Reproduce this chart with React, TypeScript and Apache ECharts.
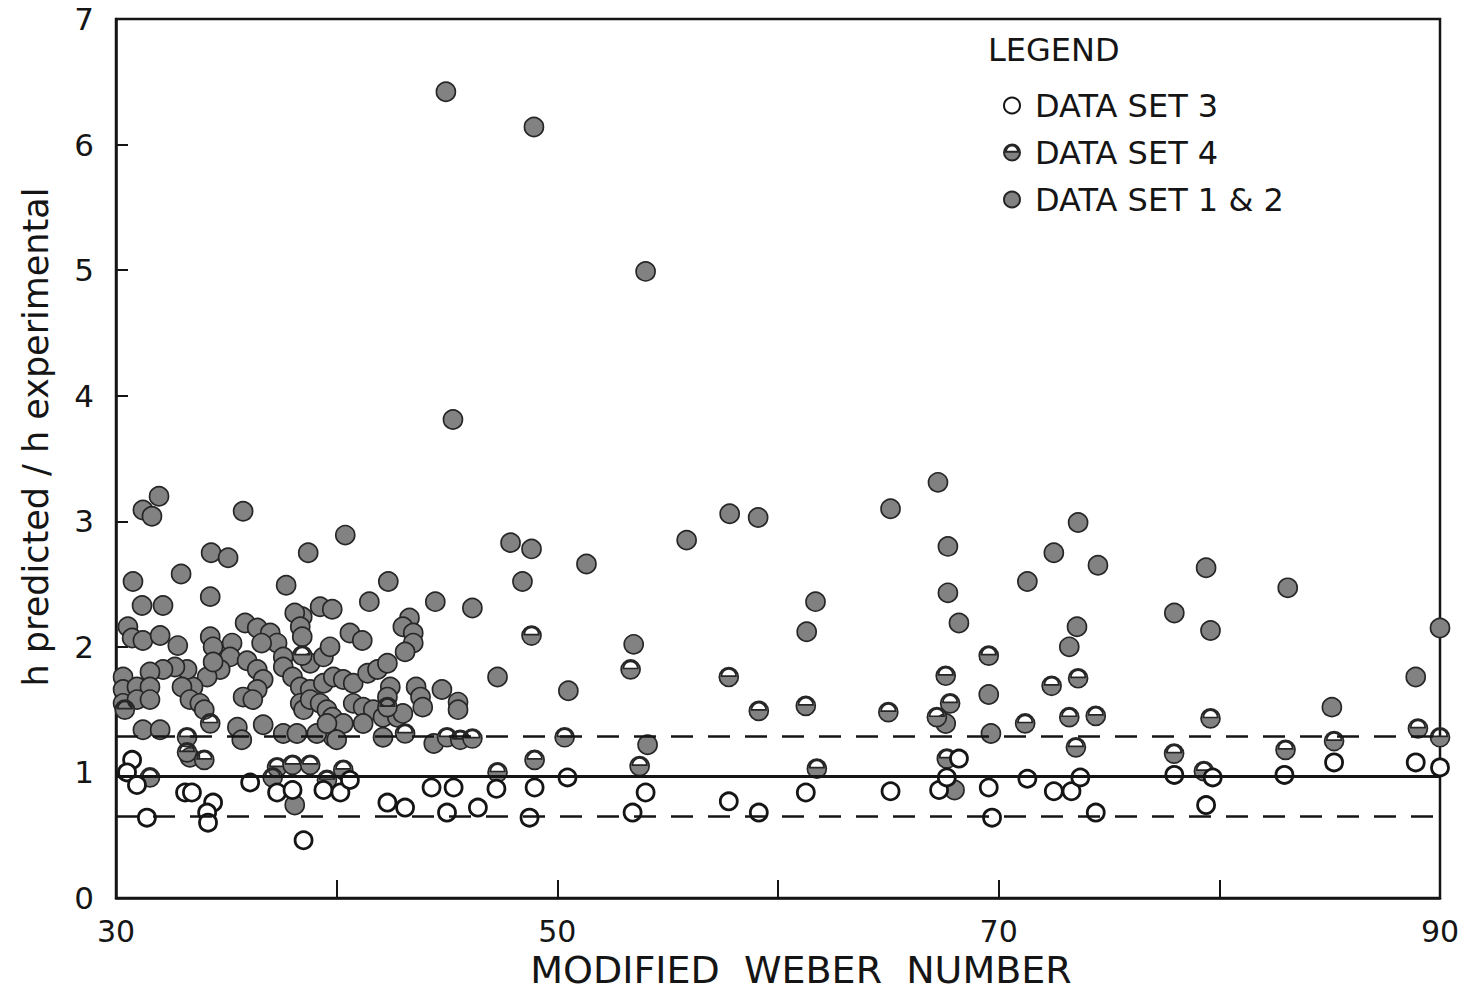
import React, { useEffect, useRef } from "react";
import * as echarts from "echarts";

// Axis ranges and ticks
const xMin = 30;
const xMax = 90;
const xStep = 10;
const xLabelled = [30, 50, 70, 90];
const yMin = 0;
const yMax = 7;
const yStep = 1;

// Reference lines: perfect agreement and the +/-30 % band
const unityLine = 0.97;
const bandLines = [1.29, 0.65];
const bandLabels = ["+30%", "-30%"];
const bandLabelPos = [
  [55.7, 1.42],
  [55.7, 0.44],
];

// DATA SET 3 (open circles)
const dataSet3 = [
  [30.73, 1.1], [30.5, 1.0], [30.95, 0.9], [31.4, 0.64], [33.13, 0.84], [33.44, 0.84],
  [34.4, 0.76], [34.13, 0.68], [34.17, 0.6], [36.08, 0.92], [37.3, 0.84], [38.0, 0.86],
  [38.5, 0.46], [39.4, 0.86], [40.17, 0.84], [40.6, 0.94], [42.3, 0.76], [43.1, 0.72],
  [44.3, 0.88], [45.3, 0.88], [45.0, 0.68], [46.4, 0.72],
  [47.24, 0.87], [48.97, 0.88], [50.46, 0.96], [54.0, 0.84], [57.77, 0.77], [61.26, 0.84],
  [48.74, 0.64], [53.41, 0.68], [59.13, 0.68],
  [65.1, 0.85], [67.3, 0.86], [67.65, 0.96], [68.2, 1.11], [69.55, 0.88], [69.7, 0.64],
  [71.3, 0.95], [72.5, 0.85], [73.3, 0.85], [73.7, 0.96], [74.4, 0.68], [77.96, 0.98],
  [79.7, 0.96], [79.4, 0.74], [82.95, 0.98], [85.2, 1.08], [88.9, 1.08], [90.0, 1.04],
];

// DATA SET 4 (half-filled circles)
const dataSet4 = [
  [30.4, 1.5], [34.27, 1.39], [33.22, 1.28], [33.22, 1.16], [34.0, 1.1], [43.1, 1.31],
  [45.0, 1.28], [45.6, 1.26], [46.15, 1.27], [31.54, 0.96], [37.3, 1.04], [38.0, 1.06],
  [38.8, 1.06], [37.1, 0.96], [39.56, 0.94], [40.3, 1.02], [38.44, 1.93], [42.3, 1.52],
  [48.83, 2.09], [53.32, 1.82], [57.77, 1.76], [59.13, 1.49], [61.26, 1.53], [50.33, 1.28],
  [48.97, 1.1], [53.73, 1.05], [47.29, 1.0], [61.76, 1.03],
  [65.0, 1.48], [67.6, 1.77], [67.8, 1.55], [67.2, 1.44], [69.55, 1.93], [71.2, 1.39],
  [72.4, 1.69], [73.6, 1.75], [73.2, 1.44], [74.4, 1.45], [73.5, 1.2], [67.65, 1.11],
  [79.6, 1.43], [77.95, 1.15], [83.0, 1.18], [85.2, 1.25], [89.0, 1.35], [90.0, 1.28],
  [79.3, 1.01],
];

// DATA SET 1 & 2 (filled circles)
const dataSet12 = [
  [44.95, 6.42], [48.94, 6.14], [54.0, 4.99], [45.27, 3.81],
  [31.95, 3.2], [31.22, 3.09], [31.63, 3.04], [35.76, 3.08], [40.39, 2.89], [34.31, 2.75],
  [35.08, 2.71], [38.71, 2.75], [30.77, 2.52], [32.95, 2.58], [34.27, 2.4], [37.71, 2.49],
  [42.34, 2.52], [31.18, 2.33], [32.13, 2.33], [41.48, 2.36], [44.47, 2.36], [46.15, 2.31],
  [38.44, 2.24], [39.25, 2.32], [39.8, 2.3], [43.3, 2.23], [43.0, 2.16],
  [30.54, 2.16], [30.73, 2.07], [31.22, 2.05], [32.0, 2.09], [32.8, 2.01], [34.27, 2.08],
  [34.4, 2.0], [35.85, 2.19], [36.4, 2.15], [36.99, 2.11], [37.3, 2.03], [37.58, 1.92],
  [38.1, 2.27], [38.35, 2.16], [38.44, 2.08], [40.6, 2.11], [41.16, 2.05], [43.47, 2.11],
  [43.47, 2.03], [43.1, 1.96], [35.26, 2.03], [35.17, 1.92], [34.72, 1.82], [34.13, 1.76],
  [33.49, 1.68], [33.22, 1.82], [32.67, 1.84], [32.13, 1.82], [31.54, 1.8], [30.32, 1.76],
  [30.32, 1.66], [30.95, 1.68], [31.54, 1.68], [30.32, 1.55], [30.95, 1.58], [31.54, 1.58],
  [32.99, 1.68], [33.35, 1.58], [33.8, 1.55], [34.0, 1.5], [34.4, 1.88], [35.94, 1.89],
  [36.4, 1.82], [36.67, 1.74], [36.4, 1.66], [35.76, 1.6], [36.2, 1.58], [36.6, 2.03],
  [37.58, 1.84], [38.0, 1.76], [38.35, 1.68], [38.8, 1.66], [39.4, 1.71], [39.85, 1.76],
  [40.3, 1.74], [40.75, 1.71], [38.8, 1.87], [39.4, 1.92], [39.7, 2.0], [38.35, 1.55],
  [38.5, 1.5], [38.8, 1.58], [39.25, 1.55], [39.56, 1.5], [39.8, 1.44], [39.85, 1.28],
  [40.3, 1.39], [40.75, 1.55], [41.2, 1.52], [41.66, 1.5], [42.1, 1.44], [41.4, 1.79],
  [41.85, 1.82], [42.3, 1.87], [42.43, 1.68], [42.3, 1.6], [42.75, 1.44], [43.0, 1.47],
  [43.6, 1.68], [43.8, 1.6], [43.9, 1.52], [44.77, 1.66], [45.5, 1.56], [45.5, 1.5],
  [31.22, 1.34], [32.0, 1.34], [33.35, 1.12], [35.5, 1.36], [35.7, 1.26], [36.67, 1.38],
  [37.58, 1.31], [38.2, 1.31], [39.1, 1.31], [39.56, 1.39], [40.0, 1.26], [41.2, 1.39],
  [42.1, 1.28], [44.4, 1.23], [38.1, 0.74],
  [47.88, 2.83], [48.83, 2.78], [51.32, 2.66], [48.42, 2.52], [53.46, 2.02], [55.86, 2.85],
  [57.81, 3.06], [59.1, 3.03], [61.7, 2.36], [61.3, 2.12], [47.29, 1.76], [50.5, 1.65],
  [54.09, 1.22],
  [67.25, 3.31], [65.1, 3.1], [67.7, 2.8], [73.6, 2.99], [74.5, 2.65], [72.5, 2.75],
  [71.3, 2.52], [67.7, 2.43], [68.2, 2.19], [73.55, 2.16], [73.2, 2.0], [79.4, 2.63],
  [77.96, 2.27], [79.6, 2.13], [83.1, 2.47], [90.0, 2.15], [88.9, 1.76], [85.1, 1.52],
  [69.55, 1.62], [69.65, 1.31], [68.0, 0.86], [67.6, 1.39],
];

const FONT = "DejaVu Sans";
const INK = "#151515";
const GREY = "#828282";

// Filled disc with a white cap cut out of its upper part
const halfDisc =
  "path://M0,10A10,10,0,1,0,20,10A10,10,0,1,0,0,10ZM2.4,9A7.6,7.6,0,0,1,17.6,9L2.4,9Z";

export default function App() {
  const ref = useRef<HTMLDivElement>(null);

  useEffect(() => {
    if (!ref.current) return;
    const chart = echarts.init(ref.current, undefined, { renderer: "svg" });

    const option: any = {
      animation: false,
      backgroundColor: "#ffffff",
      grid: {
        left: 116,
        right: 26,
        top: 19,
        bottom: 101,
        show: true,
        borderColor: INK,
        borderWidth: 2.5,
        backgroundColor: "transparent",
      },
      legend: {
        orient: "vertical",
        left: 998,
        top: 84,
        itemWidth: 16,
        itemHeight: 16,
        itemGap: 14,
        data: ["DATA SET 3", "DATA SET 4", "DATA SET 1 & 2"],
        textStyle: {
          fontFamily: FONT,
          fontSize: 32,
          color: INK,
          padding: [0, 0, 0, 10],
          lineHeight: 33,
        },
      },
      xAxis: {
        type: "value",
        min: xMin,
        max: xMax,
        interval: xStep,
        axisLine: { show: true, lineStyle: { color: INK, width: 2.5 } },
        axisTick: { show: true, inside: true, length: 18, lineStyle: { color: INK, width: 2 } },
        splitLine: { show: false },
        axisLabel: {
          fontFamily: FONT,
          fontSize: 30,
          color: INK,
          margin: 18,
          formatter: (v: number) => (xLabelled.includes(v) ? String(v) : ""),
        },
      },
      yAxis: {
        type: "value",
        min: yMin,
        max: yMax,
        interval: yStep,
        axisLine: { show: true, lineStyle: { color: INK, width: 2.5 } },
        axisTick: { show: true, inside: true, length: 12, lineStyle: { color: INK, width: 2 } },
        splitLine: { show: false },
        axisLabel: { fontFamily: FONT, fontSize: 31, color: INK, margin: 22 },
      },
      graphic: [
        {
          type: "text",
          left: 988,
          top: 34,
          style: { text: "LEGEND", fontFamily: FONT, fontSize: 32, fill: INK },
        },
        {
          type: "text",
          x: 36,
          y: 437,
          rotation: Math.PI / 2,
          style: {
            text: "h predicted / h experimental",
            fontFamily: FONT,
            fontSize: 35,
            fill: INK,
            align: "center",
            verticalAlign: "middle",
          },
        },
        {
          type: "text",
          x: 801,
          y: 970,
          style: {
            text: "MODIFIED  WEBER  NUMBER",
            fontFamily: FONT,
            fontSize: 38,
            fill: INK,
            align: "center",
            verticalAlign: "middle",
          },
        },
      ],
      series: [
        {
          name: "DATA SET 1 & 2",
          type: "scatter",
          clip: false,
          symbol: "circle",
          symbolSize: 19,
          itemStyle: { color: GREY, borderColor: "#262626", borderWidth: 1.7, opacity: 1 },
          data: dataSet12,
          z: 2,
          markLine: {
            silent: true,
            symbol: "none",
            label: { show: false },
            data: [
              { yAxis: unityLine, lineStyle: { color: INK, width: 3, type: "solid" } },
              ...bandLines.map((v) => ({
                yAxis: v,
                lineStyle: { color: INK, width: 2.6, type: [22, 15] },
              })),
            ],
          },
        },
        {
          name: "DATA SET 4",
          type: "scatter",
          clip: false,
          symbol: halfDisc,
          symbolSize: 19,
          itemStyle: { color: GREY, borderColor: "#262626", borderWidth: 1.7, opacity: 1 },
          data: dataSet4,
          z: 3,
        },
        {
          name: "DATA SET 3",
          type: "scatter",
          clip: false,
          symbol: "circle",
          symbolSize: 17,
          itemStyle: { color: "#ffffff", borderColor: INK, borderWidth: 2.8, opacity: 1 },
          data: dataSet3,
          z: 4,
        },
        {
          name: "band",
          type: "scatter",
          symbol: "none",
          symbolSize: 0,
          silent: true,
          label: {
            show: true,
            position: "inside",
            fontFamily: FONT,
            fontSize: 28,
            color: INK,
            formatter: (p: any) => bandLabels[p.dataIndex],
          },
          data: bandLabelPos,
          z: 5,
        },
      ],
    };

    chart.setOption(option);
    return () => chart.dispose();
  }, []);

  return (
    <div
      ref={ref}
      style={{ position: "absolute", left: 0, top: 0, width: 1466, height: 999, background: "#fff" }}
    />
  );
}
